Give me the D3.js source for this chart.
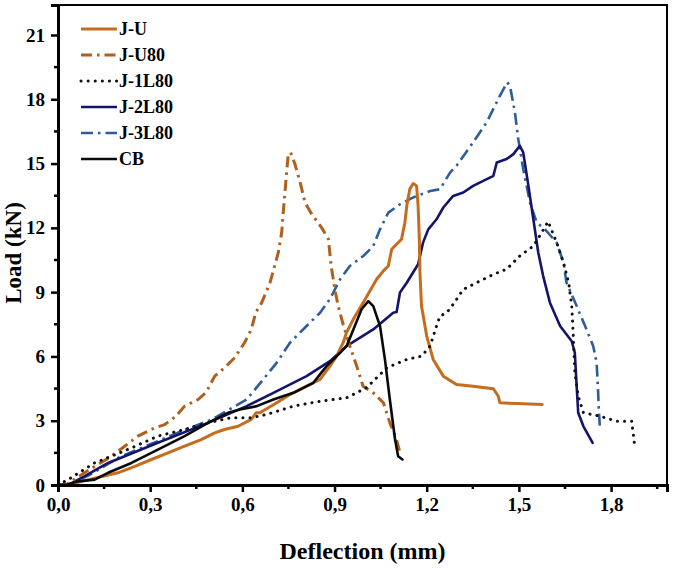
<!DOCTYPE html>
<html>
<head>
<meta charset="utf-8">
<script src="https://cdn.jsdelivr.net/npm/d3@7"></script>
<style>
  html, body { margin: 0; padding: 0; background: #fff; }
  svg { display: block; }
  text { font-family: "Liberation Serif", "DejaVu Serif", serif; font-weight: bold; fill: #000; }
</style>
</head>
<body>
<svg id="chart" width="673" height="569"></svg>
<script>
// Load–deflection curves of the tested joints (deflection in mm, load in kN)
const seriesNames = ["J-U", "J-U80", "J-1L80", "J-2L80", "J-3L80", "CB"];

const juDeflection = [0, 0.03, 0.1, 0.195, 0.25, 0.304, 0.358, 0.412, 0.466, 0.51, 0.542, 0.586, 0.629, 0.645, 0.657, 0.712, 0.755, 0.809, 0.853, 0.885, 0.907, 0.928, 0.939, 0.961, 0.993, 1.015, 1.037, 1.059, 1.075, 1.086, 1.118, 1.129, 1.135, 1.145, 1.156, 1.167, 1.172, 1.176, 1.178, 1.183, 1.2, 1.221, 1.254, 1.297, 1.351, 1.417, 1.433, 1.438, 1.493, 1.576];
const juLoad = [0, 0, 0.25, 0.57, 0.87, 1.19, 1.5, 1.81, 2.12, 2.43, 2.59, 2.74, 3.06, 3.37, 3.37, 3.84, 4.22, 4.61, 4.93, 5.55, 6.01, 6.64, 7.11, 7.73, 8.51, 9.05, 9.6, 9.99, 10.22, 11.0, 11.47, 12.25, 13.02, 13.81, 14.07, 13.96, 13.02, 11.47, 9.91, 8.35, 6.95, 5.86, 5.08, 4.69, 4.61, 4.49, 4.14, 3.84, 3.8, 3.76];

const ju80Deflection = [0, 0.03, 0.1, 0.17, 0.217, 0.26, 0.315, 0.347, 0.384, 0.412, 0.456, 0.482, 0.51, 0.542, 0.575, 0.607, 0.629, 0.644, 0.663, 0.69, 0.717, 0.728, 0.733, 0.744, 0.749, 0.757, 0.771, 0.788, 0.804, 0.826, 0.858, 0.88, 0.889, 0.901, 0.912, 0.928, 0.95, 0.972, 0.993, 1.026, 1.059, 1.08, 1.102, 1.113];
const ju80Load = [0, 0.05, 0.7, 1.3, 1.81, 2.28, 2.67, 2.82, 3.21, 3.68, 3.99, 4.32, 5.08, 5.47, 5.94, 6.64, 7.26, 8.06, 8.51, 9.44, 10.85, 11.78, 12.71, 14.58, 15.36, 15.52, 14.98, 14.12, 13.18, 12.64, 12.01, 11.47, 10.22, 9.13, 8.35, 7.49, 6.48, 5.55, 4.61, 4.3, 3.84, 2.9, 2.12, 1.5];

const j1Deflection = [0, 0.033, 0.119, 0.173, 0.239, 0.325, 0.412, 0.488, 0.564, 0.629, 0.679, 0.766, 0.853, 0.939, 1.004, 1.07, 1.135, 1.183, 1.211, 1.232, 1.243, 1.265, 1.286, 1.319, 1.362, 1.417, 1.46, 1.503, 1.547, 1.575, 1.595, 1.623, 1.645, 1.662, 1.672, 1.677, 1.682, 1.693, 1.71, 1.764, 1.818, 1.867, 1.877];
const j1Load = [0, 0.25, 1.03, 1.34, 1.73, 2.28, 2.59, 2.9, 3.14, 3.14, 3.29, 3.68, 3.91, 4.07, 4.54, 5.47, 5.86, 6.01, 6.48, 7.42, 7.88, 8.04, 8.43, 9.13, 9.44, 9.83, 10.07, 10.69, 11.15, 11.8, 12.3, 11.31, 10.38, 9.44, 8.35, 6.95, 5.24, 4.14, 3.37, 3.21, 2.98, 2.98, 1.81];

const j2Deflection = [0, 0.04, 0.087, 0.163, 0.325, 0.488, 0.614, 0.701, 0.809, 0.885, 0.939, 1.026, 1.091, 1.102, 1.113, 1.135, 1.162, 1.172, 1.188, 1.205, 1.232, 1.254, 1.286, 1.319, 1.351, 1.384, 1.417, 1.428, 1.46, 1.482, 1.503, 1.514, 1.531, 1.547, 1.563, 1.579, 1.601, 1.634, 1.672, 1.682, 1.688, 1.693, 1.71, 1.74];
const j2Load = [0, 0.05, 0.41, 1.03, 1.97, 2.9, 3.68, 4.3, 5.08, 5.78, 6.48, 7.26, 8.04, 8.07, 8.98, 9.44, 10.07, 10.3, 11.31, 11.93, 12.4, 12.95, 13.49, 13.65, 13.96, 14.19, 14.43, 15.05, 15.21, 15.44, 15.83, 15.52, 13.96, 12.4, 10.85, 9.75, 8.51, 7.42, 6.71, 6.17, 4.61, 3.37, 2.74, 1.97];

const j3Deflection = [0, 0.04, 0.1, 0.2, 0.3, 0.4, 0.5, 0.614, 0.668, 0.712, 0.755, 0.809, 0.853, 0.88, 0.896, 0.918, 0.95, 0.994, 1.026, 1.048, 1.075, 1.113, 1.156, 1.211, 1.243, 1.276, 1.297, 1.351, 1.395, 1.438, 1.462, 1.471, 1.487, 1.498, 1.514, 1.536, 1.558, 1.585, 1.623, 1.645, 1.655, 1.688, 1.72, 1.742, 1.753, 1.758, 1.76, 1.764];
const j3Load = [0, 0.05, 0.45, 1.3, 1.9, 2.5, 3.05, 3.99, 4.93, 5.71, 6.64, 7.42, 8.04, 8.58, 8.98, 9.6, 10.22, 10.69, 11.15, 11.93, 12.71, 13.1, 13.42, 13.72, 13.8, 14.58, 14.9, 15.99, 16.92, 18.16, 18.79, 18.63, 17.39, 16.14, 14.74, 13.18, 12.25, 11.93, 11.31, 10.38, 9.44, 8.35, 7.26, 6.48, 5.71, 4.3, 3.52, 2.59];

const cbDeflection = [0, 0.03, 0.065, 0.119, 0.163, 0.239, 0.325, 0.412, 0.488, 0.553, 0.592, 0.647, 0.701, 0.766, 0.831, 0.874, 0.918, 0.939, 0.966, 0.988, 1.01, 1.026, 1.048, 1.064, 1.08, 1.097, 1.107, 1.121];
const cbLoad = [0, 0.02, 0.17, 0.25, 0.57, 1.03, 1.65, 2.28, 2.9, 3.37, 3.52, 3.68, 3.99, 4.3, 4.77, 5.55, 6.17, 6.48, 7.42, 8.2, 8.58, 8.35, 7.42, 5.86, 3.99, 2.12, 1.34, 1.19];

const xTicks = [0, 0.3, 0.6, 0.9, 1.2, 1.5, 1.8];
const yTicks = [0, 3, 6, 9, 12, 15, 18, 21];

const curves = [
  { name: seriesNames[0], x: juDeflection, y: juLoad, color: "#c66c1e", width: 3, dash: null, cap: "round" },
  { name: seriesNames[1], x: ju80Deflection, y: ju80Load, color: "#b0601c", width: 3, dash: "11,5,2.5,5", cap: "butt" },
  { name: seriesNames[2], x: j1Deflection, y: j1Load, color: "#111111", width: 3, dash: "0.1,7", cap: "round" },
  { name: seriesNames[3], x: j2Deflection, y: j2Load, color: "#14146a", width: 2.6, dash: null, cap: "round" },
  { name: seriesNames[4], x: j3Deflection, y: j3Load, color: "#2f5d9a", width: 2.6, dash: "12,5,2.5,5", cap: "butt" },
  { name: seriesNames[5], x: cbDeflection, y: cbLoad, color: "#0a0a0a", width: 2.6, dash: null, cap: "round" }
];

const svg = d3.select("#chart");
const plotLeft = 58, plotRight = 667, plotTop = 5, plotBottom = 485;

const x = d3.scaleLinear().domain([0, 1.982]).range([plotLeft, plotRight]);
const y = d3.scaleLinear().domain([0, 22.4]).range([plotBottom, plotTop]);

const fmt = d => d3.format(".1f")(d).replace(".", ",");

// frame
svg.append("rect")
  .attr("x", plotLeft).attr("y", plotTop)
  .attr("width", plotRight - plotLeft).attr("height", plotBottom - plotTop)
  .attr("fill", "none").attr("stroke", "#000").attr("stroke-width", 2);

// curves
const line = d3.line().x(d => x(d[0])).y(d => y(d[1]));
const plot = svg.append("g");
// draw order so that the dark curves sit on top of the bundle near the origin
[4, 3, 1, 0, 2, 5].forEach(i => {
  const c = curves[i];
  const pts = c.x.map((v, k) => [v, c.y[k]]);
  plot.append("path")
    .attr("d", line(pts))
    .attr("fill", "none")
    .attr("stroke", c.color)
    .attr("stroke-width", c.width)
    .attr("stroke-linejoin", "round")
    .attr("stroke-linecap", c.cap)
    .attr("stroke-dasharray", c.dash);
});

// x axis
const xAxis = d3.axisBottom(x).tickValues(xTicks).tickFormat(fmt).tickSize(7).tickPadding(6);
const gx = svg.append("g").attr("transform", `translate(0,${plotBottom})`).call(xAxis);
gx.select(".domain").attr("stroke-width", 3);
gx.selectAll(".tick line").attr("stroke-width", 2.5);
gx.selectAll(".tick text").attr("font-size", 19).style("font-family", "Liberation Serif").style("font-weight", "bold");
const xMinor = d3.range(0.15, 1.98, 0.3);
svg.append("g").selectAll("line").data(xMinor).join("line")
  .attr("x1", d => x(d)).attr("x2", d => x(d))
  .attr("y1", plotBottom).attr("y2", plotBottom + 4)
  .attr("stroke", "#000").attr("stroke-width", 2.5);

// y axis
const yAxis = d3.axisLeft(y).tickValues(yTicks).tickFormat(d3.format("d")).tickSize(7).tickPadding(6);
const gy = svg.append("g").attr("transform", `translate(${plotLeft},0)`).call(yAxis);
gy.select(".domain").attr("stroke-width", 3);
gy.selectAll(".tick line").attr("stroke-width", 2.5);
gy.selectAll(".tick text").attr("font-size", 19).style("font-family", "Liberation Serif").style("font-weight", "bold");
const yMinor = d3.range(1.5, 22, 3);
svg.append("g").selectAll("line").data(yMinor).join("line")
  .attr("x1", plotLeft - 4).attr("x2", plotLeft)
  .attr("y1", d => y(d)).attr("y2", d => y(d))
  .attr("stroke", "#000").attr("stroke-width", 2.5);

// axis titles
svg.append("text")
  .attr("x", (plotLeft + plotRight) / 2).attr("y", 559)
  .attr("text-anchor", "middle").attr("font-size", 24)
  .text("Deflection (mm)");
svg.append("text")
  .attr("transform", `translate(21,${(plotTop + plotBottom) / 2 + 8}) rotate(-90)`)
  .attr("text-anchor", "middle").attr("font-size", 23)
  .text("Load (kN)");

// legend
const legend = svg.append("g");
curves.forEach((c, i) => {
  const ly = 29 + i * 26;
  legend.append("line")
    .attr("x1", 81).attr("x2", 117).attr("y1", ly).attr("y2", ly)
    .attr("stroke", c.color).attr("stroke-width", c.width)
    .attr("stroke-linecap", c.dash ? c.cap : "butt")
    .attr("stroke-dasharray", c.dash);
  legend.append("text")
    .attr("x", 119).attr("y", ly + 6)
    .attr("font-size", 18)
    .text(c.name);
});
</script>
</body>
</html>
